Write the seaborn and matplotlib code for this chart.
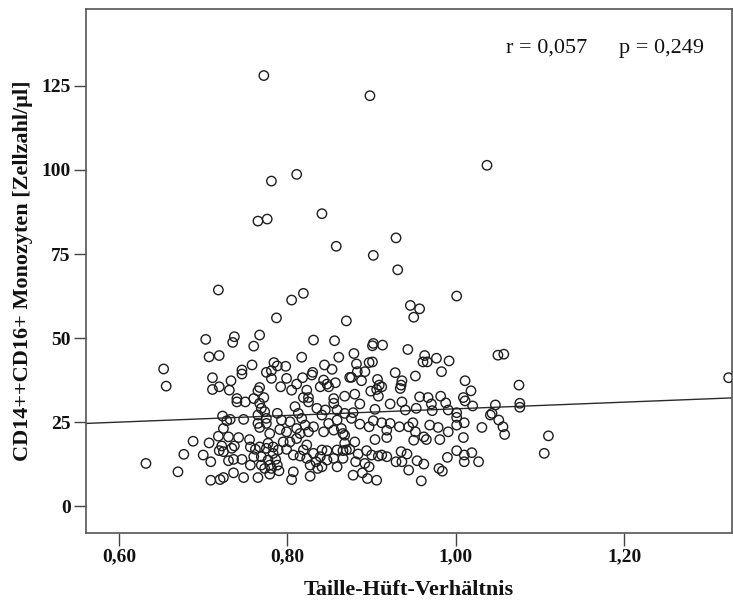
import numpy as np
import pandas as pd
import matplotlib
matplotlib.use("Agg")
import matplotlib.pyplot as plt
import seaborn as sns

# Waist-hip ratio (x) and CD14++CD16+ monocyte count (y)
whr = [
    0.772, 0.898, 1.037, 0.811, 0.781, 0.841, 0.765, 0.776, 0.858, 0.929, 0.902, 0.931, 0.718, 0.819, 0.805,
    1.001, 0.946, 0.957, 0.950, 0.787, 0.870,
    0.703, 0.737, 0.735, 0.767, 0.760, 0.831, 0.856, 0.707, 0.719, 0.758, 0.817, 0.861, 0.775, 0.784, 0.788,
    0.798, 0.781, 0.746, 0.746, 0.844, 0.853, 0.830, 0.711, 0.733, 0.781, 0.799, 0.818, 0.829, 0.843, 0.847,
    0.857, 0.874, 0.711, 0.719, 0.731, 0.767, 0.765, 0.792, 0.805, 0.811, 0.823, 0.839, 0.849, 0.740, 0.760,
    0.772, 0.819, 0.825, 0.855, 0.868,
    0.902, 0.901, 0.913, 0.879, 0.943, 0.882, 0.897, 0.901, 0.963, 0.961, 0.966, 0.977, 0.992, 1.050, 0.883,
    0.892, 0.928, 0.983, 0.876, 0.888, 0.907, 0.936, 0.952, 1.011, 0.909, 0.912, 0.935, 0.934, 1.018, 0.899,
    0.906, 0.880, 0.908, 0.957, 0.967, 0.982, 1.009,
    0.723, 0.728, 0.732, 0.748, 0.688, 0.707, 0.718, 0.730, 0.742, 0.722, 0.719, 0.734, 0.724, 0.700, 0.709,
    0.730, 0.736, 0.746, 0.709, 0.720, 0.724, 0.736, 0.748, 0.765, 0.779, 0.790, 0.805, 0.807, 0.827, 0.755,
    0.756, 0.762, 0.767, 0.760, 0.769, 0.769, 0.777, 0.783, 0.786, 0.788, 0.779, 0.773, 0.781, 0.777, 0.775,
    0.783, 0.789, 0.795, 0.799, 0.803, 0.811, 0.807, 0.815, 0.819, 0.823, 0.823, 0.831, 0.827, 0.834, 0.839,
    0.841, 0.847, 0.847, 0.855, 0.859, 0.866, 0.868, 0.870, 0.859, 0.841, 0.836, 0.740, 0.750, 0.767, 0.769,
    0.773, 0.765, 0.775, 0.765, 0.775, 0.779, 0.767, 0.788, 0.793, 0.791, 0.799, 0.803, 0.809, 0.813, 0.817,
    0.821, 0.811, 0.815, 0.825, 0.831, 0.825, 0.835, 0.841, 0.845, 0.849, 0.843, 0.855, 0.859, 0.859, 0.855,
    0.866, 0.868, 0.756,
    0.886, 0.878, 0.904, 0.922, 0.936, 0.940, 0.953, 0.971, 0.972, 0.988, 0.991, 1.001, 1.001, 1.020, 1.011,
    1.043, 1.047, 1.051, 0.876, 0.886, 0.897, 0.902, 0.912, 0.922, 0.918, 0.933, 0.944, 0.949, 0.952, 0.969,
    0.979, 0.991, 1.001, 1.010, 1.031, 0.864, 0.868, 0.904, 0.918, 0.950, 0.962, 0.965, 0.981, 1.009, 0.880,
    0.866, 0.874, 0.884, 0.894, 0.900, 0.908, 0.912, 0.918, 0.935, 0.942, 0.936, 0.929, 0.954, 0.962, 0.944,
    0.980, 0.984, 0.990, 1.001, 1.010, 1.010, 1.019, 1.027, 0.878, 0.889, 0.895, 0.906, 0.959, 0.881, 0.892,
    0.897,
    1.057, 1.075, 1.076, 1.076, 1.041, 1.056, 1.058, 1.110, 1.105, 1.324,
    0.653, 0.656, 0.632, 0.670, 0.677, 0.724, 0.737,
]
mono = [
    128.1, 122.1, 101.4, 98.7, 96.7, 87.0, 84.8, 85.4, 77.3, 79.8, 74.6, 70.3, 64.3, 63.3, 61.3,
    62.5, 59.7, 58.7, 56.2, 56.0, 55.1,
    49.6, 50.4, 48.7, 50.9, 47.6, 49.4, 49.2, 44.4, 44.8, 42.0, 44.3, 44.3, 39.8, 42.7, 41.7,
    41.6, 40.3, 40.5, 39.3, 42.0, 40.7, 39.8, 38.2, 37.3, 38.0, 38.0, 38.2, 39.0, 37.5, 36.3,
    36.7, 38.3, 34.7, 35.5, 34.5, 35.3, 34.3, 35.5, 34.5, 36.3, 34.5, 35.5, 35.5, 32.0, 32.0,
    32.3, 32.3, 32.3, 32.0, 32.7,
    48.4, 47.7, 47.9, 45.4, 46.6, 42.3, 42.7, 42.9, 44.8, 42.9, 42.9, 44.0, 43.2, 44.9, 40.0,
    40.0, 39.7, 40.0, 38.3, 37.3, 37.7, 37.3, 38.7, 37.3, 36.0, 35.5, 36.0, 35.0, 34.3, 34.2,
    34.7, 33.3, 32.7, 32.5, 32.3, 32.7, 32.3,
    26.8, 25.4, 25.8, 25.8, 19.3, 18.8, 20.8, 20.6, 20.4, 17.9, 16.5, 17.2, 16.2, 15.2, 13.2,
    13.5, 13.9, 13.9, 7.7, 7.9, 8.5, 9.9, 8.5, 8.5, 9.5, 10.5, 7.9, 10.2, 8.9, 19.8,
    17.6, 16.9, 17.6, 14.7, 14.7, 12.2, 13.7, 15.7, 13.9, 12.2, 12.2, 11.2, 11.2, 18.7, 17.2,
    17.6, 16.7, 19.1, 16.9, 19.1, 20.1, 15.2, 14.9, 16.7, 18.2, 14.2, 15.7, 12.2, 13.2, 14.7,
    16.7, 16.5, 13.7, 14.2, 16.7, 14.2, 18.7, 16.7, 11.7, 11.7, 11.2, 31.0, 31.0, 30.6, 29.1,
    28.1, 27.1, 26.1, 24.6, 24.6, 21.6, 23.4, 27.6, 25.6, 22.8, 22.1, 25.1, 29.6, 27.6, 26.1,
    24.1, 23.1, 21.6, 22.1, 23.6, 31.0, 29.1, 27.1, 28.6, 24.6, 22.1, 22.6, 25.6, 28.6, 30.6,
    21.6, 27.6, 12.2,
    30.4, 27.8, 28.8, 30.4, 31.0, 28.6, 29.1, 30.4, 28.4, 30.7, 28.6, 27.8, 26.4, 29.8, 31.3,
    27.6, 30.1, 25.6, 26.1, 24.4, 23.6, 25.4, 24.8, 24.6, 22.6, 23.6, 23.6, 24.8, 22.1, 24.1,
    23.4, 22.1, 24.1, 24.8, 23.4, 23.1, 21.1, 19.8, 20.4, 19.6, 20.6, 19.8, 19.8, 20.4, 19.1,
    16.5, 16.9, 15.5, 16.5, 15.2, 14.9, 15.2, 14.7, 16.2, 15.5, 13.2, 13.2, 13.5, 12.5, 10.7,
    11.2, 10.4, 14.5, 16.5, 15.2, 13.2, 15.9, 13.2, 9.2, 9.9, 8.2, 7.7, 7.5, 13.2, 12.7,
    11.7,
    45.2, 36.0, 30.6, 29.4, 27.1, 23.6, 21.3, 20.9, 15.7, 38.2,
    40.8, 35.7, 12.7, 10.2, 15.4, 23.1, 17.9,
]

# Linear fit line shown in the picture
fit_intercept = 19.05
fit_slope = 9.9

x_ticks = [0.60, 0.80, 1.00, 1.20]
x_tick_labels = ["0,60", "0,80", "1,00", "1,20"]
y_ticks = [0, 25, 50, 75, 100, 125]
y_tick_labels = ["0", "25", "50", "75", "100", "125"]
x_label = "Taille-Hüft-Verhältnis"
y_label = "CD14++CD16+ Monozyten [Zellzahl/µl]"
r_text = "r = 0,057"
p_text = "p = 0,249"

sns.set_theme(style="ticks")
plt.rcParams["font.family"] = ["Liberation Serif", "DejaVu Serif"]

W, H = 733, 602
fig = plt.figure(figsize=(W / 100, H / 100), dpi=100)
left, right, top, bottom = 86, 732, 9, 533
ax = fig.add_axes([left / W, 1 - bottom / H, (right - left) / W, (bottom - top) / H])

df = pd.DataFrame({"whr": whr, "mono": mono})
sns.scatterplot(data=df, x="whr", y="mono", ax=ax, marker="o", s=46,
                facecolor="none", edgecolor="#1e1e1e", linewidth=1.0, zorder=3)

xlim = (0.5608, 1.328)
ylim = (-8.0, 147.9)
fit_df = pd.DataFrame({"whr": list(xlim),
                       "mono": [fit_intercept + fit_slope * v for v in xlim]})
sns.lineplot(data=fit_df, x="whr", y="mono", ax=ax, color="#2a2a2a", linewidth=1.0, zorder=2)

ax.set_xlim(*xlim)
ax.set_ylim(*ylim)
ax.set_xticks(x_ticks)
ax.set_xticklabels(x_tick_labels, fontweight="bold", fontsize=14)
ax.set_yticks(y_ticks)
ax.set_yticklabels(y_tick_labels, fontweight="bold", fontsize=14)
ax.tick_params(axis="both", direction="out", length=9, width=1.0, color="#444444",
               labelcolor="#111111", pad=2)

for s in ax.spines.values():
    s.set_visible(True)
    s.set_color("#555555")
    s.set_linewidth(1.2)

ax.set_xlabel(x_label, fontweight="bold", fontsize=16, color="#111111")
ax.set_ylabel(y_label, fontweight="bold", fontsize=16, color="#111111")
ax.xaxis.label.set_va("center")
ax.yaxis.label.set_va("center")
ax.xaxis.set_label_coords(0.5, (bottom - 590) / (bottom - top))
ax.yaxis.set_label_coords((23 - left) / (right - left), 0.5)

ty = (bottom - 48) / (bottom - top)
ax.text((506 - left) / (right - left), ty, r_text,
        transform=ax.transAxes, fontsize=16, va="center", ha="left", color="#111111")
ax.text((619 - left) / (right - left), ty, p_text,
        transform=ax.transAxes, fontsize=16, va="center", ha="left", color="#111111")

ax.grid(False)
fig.savefig("out.png", dpi=100, facecolor="white")
